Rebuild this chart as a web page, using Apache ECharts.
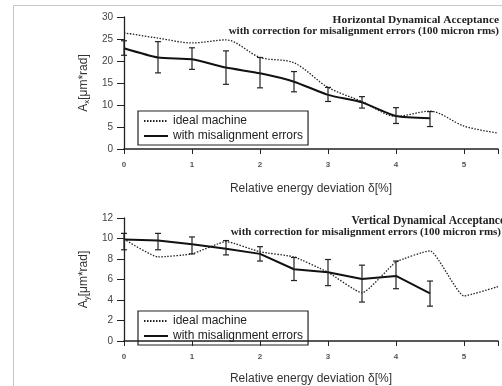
<!DOCTYPE html>
<html>
<head>
<meta charset="utf-8">
<script src="https://cdn.jsdelivr.net/npm/echarts@6/dist/echarts.min.js"></script>
<style>
  html, body { margin: 0; padding: 0; background: #fff; }
  #chart { width: 502px; height: 386px; }
</style>
</head>
<body>
<div id="chart"></div>
<script>
// Energy deviation steps (percent)
const deltaIdeal = [0, 0.5, 1, 1.5, 2, 2.5, 3, 3.5, 4, 4.5, 5, 5.5];
const deltaErr = [0, 0.5, 1, 1.5, 2, 2.5, 3, 3.5, 4, 4.5];

// Horizontal acceptance [um*rad]
const horIdeal = [26.4, 25.2, 24.1, 24.8, 20.8, 19.6, 14.0, 10.8, 7.4, 8.6, 5.2, 3.6];
const horErr = [22.9, 20.8, 20.4, 18.5, 17.2, 15.3, 12.3, 10.6, 7.5, 7.0];
const horErrLow = [21.3, 17.3, 18.1, 14.7, 13.9, 13.0, 10.8, 9.3, 5.8, 5.1];
const horErrHigh = [24.6, 24.4, 23.0, 22.3, 20.8, 17.6, 14.0, 11.9, 9.4, 8.5];

// Vertical acceptance [um*rad]
const verIdeal = [9.95, 8.2, 8.5, 9.7, 8.7, 8.2, 6.7, 4.7, 7.7, 8.8, 4.4, 5.3];
const verErr = [9.9, 9.8, 9.45, 9.0, 8.5, 7.0, 6.7, 6.05, 6.35, 4.65];
const verErrLow = [8.9, 8.9, 8.5, 8.4, 7.8, 5.9, 5.4, 3.8, 5.1, 3.4];
const verErrHigh = [10.5, 10.5, 10.15, 9.8, 9.2, 8.15, 7.95, 7.4, 7.8, 5.85];

const xTicks = [0, 1, 2, 3, 4, 5];

const SANS = 'Liberation Sans';
const SERIF = 'Liberation Serif';
const INK = '#222';

function pairs(xs, ys) { return xs.map((x, i) => [x, ys[i]]); }
function bars(xs, lo, hi) { return xs.map((x, i) => [x, lo[i], hi[i]]); }

function renderErrorBar(params, api) {
  const x = api.value(0);
  const lo = api.coord([x, api.value(1)]);
  const hi = api.coord([x, api.value(2)]);
  const cap = 3;
  const style = { stroke: INK, lineWidth: 1.2 };
  return {
    type: 'group',
    children: [
      { type: 'line', shape: { x1: lo[0], y1: lo[1], x2: hi[0], y2: hi[1] }, style },
      { type: 'line', shape: { x1: lo[0] - cap, y1: lo[1], x2: lo[0] + cap, y2: lo[1] }, style },
      { type: 'line', shape: { x1: hi[0] - cap, y1: hi[1], x2: hi[0] + cap, y2: hi[1] }, style }
    ]
  };
}

function xAxisDef(gridIndex, gap) {
  return {
    type: 'value', gridIndex, min: 0, max: 5.5, interval: 1,
    name: 'Relative energy deviation δ[%]', nameLocation: 'middle', nameGap: gap,
    nameTextStyle: { fontFamily: SANS, fontSize: 12, color: '#333' },
    axisLine: { show: true, onZero: false, lineStyle: { color: INK, width: 1.5 } },
    axisTick: { show: true, length: 5, inside: false, lineStyle: { color: INK } },
    axisLabel: {
      fontFamily: SANS, fontSize: 8, fontWeight: 'bold', color: '#555', margin: 12,
      formatter: v => (xTicks.indexOf(v) >= 0 ? String(v) : '')
    },
    splitLine: { show: false }
  };
}

function yAxisDef(gridIndex, max, interval, sub) {
  return {
    type: 'value', gridIndex, min: 0, max, interval,
    name: 'A{s|' + sub + '}[μm*rad]', nameLocation: 'middle', nameRotate: 90, nameGap: 27,
    nameTextStyle: {
      fontFamily: SANS, fontSize: 12, color: '#333',
      rich: { s: { fontFamily: SANS, fontSize: 8, color: '#333', verticalAlign: 'bottom', padding: [6, 0, 0, 0] } }
    },
    axisLine: { show: true, lineStyle: { color: INK, width: 1.3 } },
    axisTick: { show: true, length: 7, lineStyle: { color: INK } },
    axisLabel: { fontFamily: SANS, fontSize: 10, color: '#444', margin: 11 },
    splitLine: { show: false }
  };
}

function legendDef(top) {
  return {
    data: ['ideal machine', 'with misalignment errors'],
    orient: 'vertical', left: 138, top,
    itemWidth: 24, itemHeight: 10, itemGap: 3,
    padding: [4, 5, 3, 5],
    borderColor: INK, borderWidth: 1.2,
    selectedMode: false,
    itemStyle: { color: 'rgba(0,0,0,0)', borderColor: 'rgba(0,0,0,0)', borderWidth: 0 },
    textStyle: { fontFamily: SANS, fontSize: 12, lineHeight: 12, color: '#222' }
  };
}

function titleText(y, right, text, size) {
  return {
    type: 'text', right, top: y,
    style: { text, fontFamily: SERIF, fontWeight: 'bold', fontSize: size, fill: '#222' }
  };
}

const idealStyle = { color: INK, width: 1.3, type: [1.5, 1.5] };
const errStyle = { color: '#111', width: 2 };

const chart = echarts.init(document.getElementById('chart'), null, { renderer: 'canvas' });
chart.setOption({
  animation: false,
  backgroundColor: '#fff',
  color: [INK, '#111'],
  grid: [
    { left: 124, top: 17, width: 374, height: 132 },
    { left: 124, top: 218, width: 374, height: 129 }
  ],
  xAxis: [xAxisDef(0, 34), xAxisDef(1, 32)],
  yAxis: [yAxisDef(0, 30, 5, 'x'), yAxisDef(1, 12, 2, 'y')],
  legend: [legendDef(111), legendDef(311)],
  graphic: [
    { type: 'rect', left: 11, top: 3, shape: { width: 520, height: 400 },
      style: { fill: 'none', stroke: '#c8c8c8', lineWidth: 1 }, silent: true },
    titleText(15, 3, 'Horizontal Dynamical Acceptance', 11.4),
    titleText(26, 3, 'with correction for misalignment errors (100 micron rms)', 11),
    titleText(215, -3, 'Vertical Dynamical Acceptance', 11.5),
    titleText(227, 1, 'with correction for misalignment errors (100 micron rms)', 11)
  ],
  series: [
    { name: 'ideal machine', type: 'line', xAxisIndex: 0, yAxisIndex: 0,
      data: pairs(deltaIdeal, horIdeal), symbol: 'none', smooth: 0.3,
      itemStyle: { color: INK }, lineStyle: idealStyle, z: 3 },
    { name: 'with misalignment errors', type: 'line', xAxisIndex: 0, yAxisIndex: 0,
      data: pairs(deltaErr, horErr), symbol: 'none', smooth: 0.2,
      itemStyle: { color: '#111' }, lineStyle: errStyle, z: 4 },
    { name: 'hor-errorbars', type: 'custom', xAxisIndex: 0, yAxisIndex: 0,
      data: bars(deltaErr, horErrLow, horErrHigh), renderItem: renderErrorBar,
      encode: { x: 0, y: [1, 2] }, z: 5 },
    { name: 'ideal machine', type: 'line', xAxisIndex: 1, yAxisIndex: 1,
      data: pairs(deltaIdeal, verIdeal), symbol: 'none', smooth: 0.15,
      itemStyle: { color: INK }, lineStyle: idealStyle, z: 3 },
    { name: 'with misalignment errors', type: 'line', xAxisIndex: 1, yAxisIndex: 1,
      data: pairs(deltaErr, verErr), symbol: 'none',
      itemStyle: { color: '#111' }, lineStyle: errStyle, z: 4 },
    { name: 'ver-errorbars', type: 'custom', xAxisIndex: 1, yAxisIndex: 1,
      data: bars(deltaErr, verErrLow, verErrHigh), renderItem: renderErrorBar,
      encode: { x: 0, y: [1, 2] }, z: 5 }
  ]
});
</script>
</body>
</html>
